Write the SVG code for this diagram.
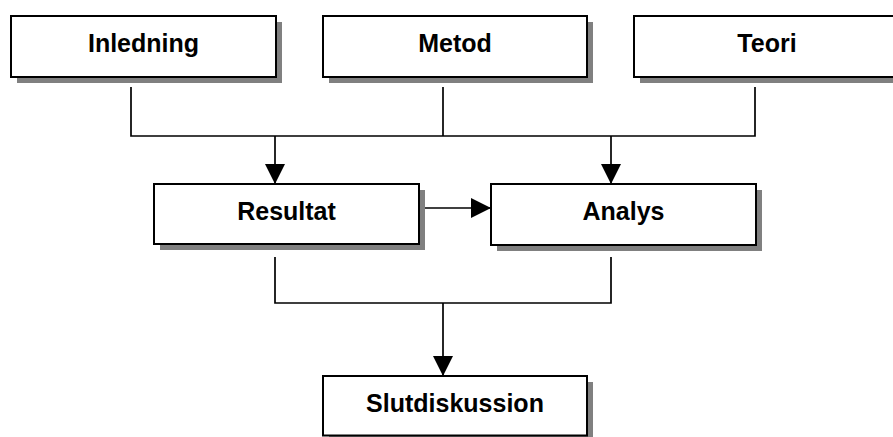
<svg xmlns="http://www.w3.org/2000/svg" width="893" height="437" viewBox="0 0 893 437">
  <style>
    .shadow { fill: #808080; }
    .box { fill: #ffffff; stroke: #000000; stroke-width: 2; }
    .label { font-family: "Liberation Sans", Arial, sans-serif; font-weight: bold; font-size: 25px; fill: #000000; text-anchor: middle; }
    .wire { fill: none; stroke: #000000; stroke-width: 1.7; }
  </style>
  <defs>
    <marker id="arrow" viewBox="0 0 20 20" refX="20" refY="10" markerWidth="20" markerHeight="20" markerUnits="userSpaceOnUse" orient="auto">
      <path d="M0,0 L20,10 L0,20 Z" fill="#000000"/>
    </marker>
  </defs>
  <rect width="893" height="437" fill="#ffffff"/>

  <g id="connectors">
    <!-- top row merge bar -->
    <path class="wire" d="M131,87 V136 H755 V87"/>
    <path class="wire" d="M443,87 V136"/>
    <path class="wire" d="M275,136 V184" marker-end="url(#arrow)"/>
    <path class="wire" d="M611,136 V184" marker-end="url(#arrow)"/>
    <!-- Resultat to Analys -->
    <path class="wire" d="M420,208 H491" marker-end="url(#arrow)"/>
    <!-- middle row merge bar -->
    <path class="wire" d="M275,257 V303 H611 V257"/>
    <path class="wire" d="M443,303 V376" marker-end="url(#arrow)"/>
  </g>

  <g id="inledning">
    <rect class="shadow" x="17" y="22" width="265" height="61"/>
    <rect class="box" x="11" y="16" width="265" height="61"/>
    <text class="label" x="143.5" y="52">Inledning</text>
  </g>
  <g id="metod">
    <rect class="shadow" x="329" y="22" width="264" height="61"/>
    <rect class="box" x="323" y="16" width="264" height="61"/>
    <text class="label" x="455" y="52">Metod</text>
  </g>
  <g id="teori">
    <rect class="shadow" x="640" y="22" width="265" height="61"/>
    <rect class="box" x="634" y="16" width="265" height="61"/>
    <text class="label" x="767" y="52">Teori</text>
  </g>
  <g id="resultat">
    <rect class="shadow" x="160" y="190" width="265" height="60"/>
    <rect class="box" x="154" y="184" width="265" height="60"/>
    <text class="label" x="286.5" y="220">Resultat</text>
  </g>
  <g id="analys">
    <rect class="shadow" x="497" y="190" width="265" height="61"/>
    <rect class="box" x="491" y="184" width="265" height="61"/>
    <text class="label" x="623.5" y="220">Analys</text>
  </g>
  <g id="slutdiskussion">
    <rect class="shadow" x="329" y="382" width="264" height="60"/>
    <rect class="box" x="323" y="376" width="264" height="59.5"/>
    <text class="label" x="455" y="412">Slutdiskussion</text>
  </g>
</svg>
